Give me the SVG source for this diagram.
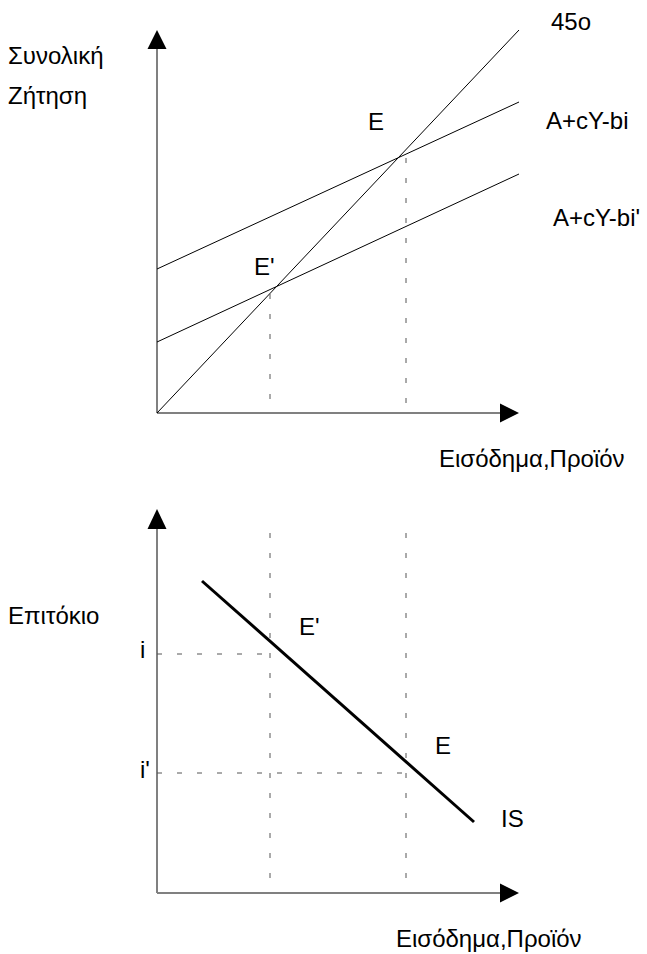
<svg xmlns="http://www.w3.org/2000/svg" width="647" height="954" viewBox="0 0 647 954">
<style>
text{font-family:"Liberation Sans",Arial,sans-serif;font-size:24px;fill:#000}
.axis{stroke:#808080;stroke-width:2;fill:none}
.thin{stroke:#000;stroke-width:1;fill:none}
.dash{stroke:#555;stroke-width:1;stroke-dasharray:5 15;fill:none}
.is{stroke:#000;stroke-width:3;fill:none}
.head{fill:#000}
</style>
<rect width="647" height="954" fill="#fff"/>
<g id="top-chart">
<g id="top-axes">
<line class="axis" x1="157" y1="413" x2="157" y2="47"/>
<polygon class="head" points="157,30 147.5,49 166.5,49"/>
<line class="axis" x1="157" y1="413" x2="502" y2="413"/>
<polygon class="head" points="519,413 500,403.5 500,422.5"/>
</g>
<g id="top-lines">
<line class="thin" x1="157" y1="413" x2="519" y2="30"/>
<line class="thin" x1="157" y1="269" x2="519" y2="102"/>
<line class="thin" x1="157" y1="342" x2="519" y2="174"/>
<line class="dash" x1="270" y1="294" x2="270" y2="413"/>
<line class="dash" x1="406" y1="158" x2="406" y2="413"/>
</g>
<g id="top-labels">
<text x="8" y="64">Συνολική</text>
<text x="8" y="104">Ζήτηση</text>
<text x="551" y="30">45o</text>
<text x="368" y="130">E</text>
<text x="546" y="129">A+cY-bi</text>
<text x="553" y="226">A+cY-bi'</text>
<text x="254" y="275">E'</text>
<text x="439" y="467">Εισόδημα,Προϊόν</text>
</g>
</g>
<g id="bottom-chart">
<g id="bottom-axes">
<line class="axis" x1="157" y1="893" x2="157" y2="527"/>
<polygon class="head" points="157,509 147.5,529 166.5,529"/>
<line class="axis" x1="157" y1="893" x2="502" y2="893"/>
<polygon class="head" points="519,893 500,883.5 500,902.5"/>
</g>
<g id="bottom-lines">
<line class="dash" x1="270" y1="533" x2="270" y2="893"/>
<line class="dash" x1="406" y1="533" x2="406" y2="893"/>
<line class="dash" x1="157" y1="654" x2="270" y2="654"/>
<line class="dash" x1="157" y1="773" x2="406" y2="773"/>
<line id="IS" class="is" x1="202" y1="581" x2="474" y2="822"/>
</g>
<g id="bottom-labels">
<text x="8" y="624">Επιτόκιο</text>
<text x="140" y="658">i</text>
<text x="140" y="778">i'</text>
<text x="299" y="635">E'</text>
<text x="435" y="754">E</text>
<text x="501" y="827">IS</text>
<text x="396" y="947">Εισόδημα,Προϊόν</text>
</g>
</g>
</svg>
